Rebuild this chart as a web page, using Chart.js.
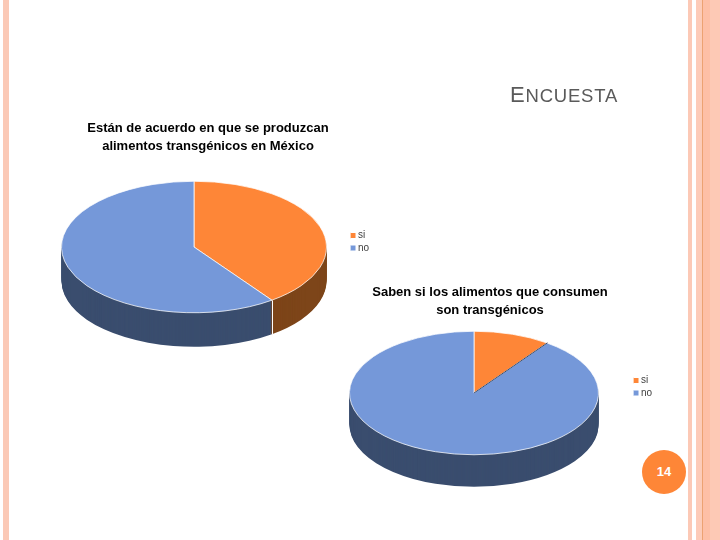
<!DOCTYPE html>
<html><head><meta charset="utf-8">
<script src="https://cdn.jsdelivr.net/npm/chart.js@4"></script>
<style>
html,body{margin:0;padding:0;background:#fff;width:720px;height:540px;overflow:hidden}
#slide{position:relative;width:720px;height:540px;overflow:hidden}
#slide canvas{position:absolute;left:0;top:0}
.band{position:absolute;top:0;height:540px}
#heading{position:absolute;left:510px;top:83px;font-family:"Liberation Sans",sans-serif;color:#5a5a5a;font-size:18.5px;line-height:24px;letter-spacing:0.8px;white-space:nowrap}
#heading b{font-weight:400;font-size:22px}
#page{position:absolute;left:642px;top:450px;width:44px;height:44px;border-radius:50%;background:#FE8637;color:#fff;font:bold 13px "Liberation Sans",sans-serif;line-height:44px;text-align:center}
</style></head>
<body><div id="slide">
<div class="band" style="left:3px;width:6px;background:#FBC9B6"></div>
<div class="band" style="left:688px;width:4px;background:#FCC9B6"></div>
<div class="band" style="left:696px;width:6px;background:#FDCBB8"></div>
<div class="band" style="left:702px;width:1px;background:#EDA272"></div>
<div class="band" style="left:703px;width:7px;background:#FEBFA6"></div>
<div class="band" style="left:710px;width:10px;background:#FDC9B5"></div>
<canvas id="c1" width="720" height="540"></canvas>
<canvas id="c2" width="720" height="540"></canvas>
<div id="heading"><b>E</b>NCUESTA</div>
<div id="page">14</div>
</div>
<script>
const categories = ['si', 'no'];
const acuerdoValues = [40, 60];
const sabenValues = [10, 90];
const acuerdoTitle = ['Están de acuerdo en que se produzcan', 'alimentos transgénicos en México'];
const sabenTitle = ['Saben si los alimentos que consumen', 'son transgénicos'];
const topColors = ['#FE8637', '#7598D9'];
const sideColors = ['#7D4519', '#3A4D6E'];

const pie3d = {
  id: 'pie3d',
  afterLayout(chart, args, o) {
    const a = chart.chartArea;
    a.left = o.cx - o.rx; a.right = o.cx + o.rx;
    a.top = o.cy - o.rx; a.bottom = o.cy + o.rx;
    a.width = a.height = o.rx * 2;
    const t = chart.titleBlock;
    t.left = o.titleX - 150; t.right = o.titleX + 150; t.width = 300; t.top = o.titleY;
    t.bottom = o.titleY + 40;
    const l = chart.legend;
    const w = l.width, h = l.height;
    l.left = o.legendX; l.right = o.legendX + w; l.top = o.legendY; l.bottom = o.legendY + h;
  },
  beforeDatasetsDraw(chart, args, o) {
    const ctx = chart.ctx, meta = chart.getDatasetMeta(0), k = o.ry / o.rx;
    const flat = (d) => {
      ctx.setTransform(1, 0, 0, 1, 0, 0);
      ctx.translate(o.cx, o.cy + d);
      ctx.scale(1, k);
      ctx.translate(-o.cx, -o.cy);
    };
    ctx.save();
    for (let d = o.depth; d >= 1; d--) {
      flat(d);
      meta.data.forEach((el, i) => {
        const saved = el.options;
        el.options = Object.assign(Object.create(saved), {backgroundColor: sideColors[i], borderWidth: 0});
        el.draw(ctx);
        el.options = saved;
      });
    }
    ctx.setTransform(1, 0, 0, 1, 0, 0);
    meta.data.forEach((el) => {
      const s = Math.sin(el.endAngle), c = Math.cos(el.endAngle);
      if (s > 0.01) {
        const x = Math.round(o.cx + o.rx * c) + 0.5, y = o.cy + o.ry * s;
        ctx.strokeStyle = '#fff'; ctx.lineWidth = 1;
        ctx.beginPath(); ctx.moveTo(x, y); ctx.lineTo(x, y + o.depth); ctx.stroke();
      }
    });
    flat(0);
  },
  afterDatasetsDraw(chart, args, o) {
    const ctx = chart.ctx, meta = chart.getDatasetMeta(0);
    ctx.restore();
    if (o.darkEdge) {
      const a = meta.data[0].endAngle;
      ctx.save();
      ctx.strokeStyle = '#3A4D6E'; ctx.lineWidth = 1;
      ctx.beginPath();
      ctx.moveTo(o.cx, o.cy);
      ctx.lineTo(o.cx + o.rx * Math.cos(a), o.cy + o.ry * Math.sin(a));
      ctx.stroke();
      ctx.restore();
    }
  }
};

function makePie(id, values, title, geo) {
  return new Chart(document.getElementById(id), {
    type: 'pie',
    data: {
      labels: categories,
      datasets: [{data: values, backgroundColor: topColors, borderColor: '#fff', borderWidth: 1, clip: false}]
    },
    options: {
      responsive: false,
      animation: false,
      plugins: {
        pie3d: geo,
        tooltip: {enabled: false},
        title: {
          display: true, text: title, color: '#000', padding: 0,
          font: {family: '"Liberation Sans"', size: 13, weight: 'bold', lineHeight: 1.42}
        },
        legend: {
          display: true, position: 'right', align: 'start',
          labels: {
            boxWidth: 0.01, boxHeight: 6, padding: 2.5, color: '#404040',
            usePointStyle: true, pointStyle: 'rect',
            font: {family: '"Liberation Sans"', size: 10}
          }
        }
      }
    },
    plugins: [pie3d]
  });
}

makePie('c1', acuerdoValues, acuerdoTitle,
  {cx: 194, cy: 247, rx: 133, ry: 66, depth: 34, titleX: 208, titleY: 119, legendX: 350.5, legendY: 228});
makePie('c2', sabenValues, sabenTitle,
  {cx: 474, cy: 393, rx: 125, ry: 62, depth: 32, titleX: 490, titleY: 283, legendX: 633.5, legendY: 373, darkEdge: true});
</script>
</body></html>
